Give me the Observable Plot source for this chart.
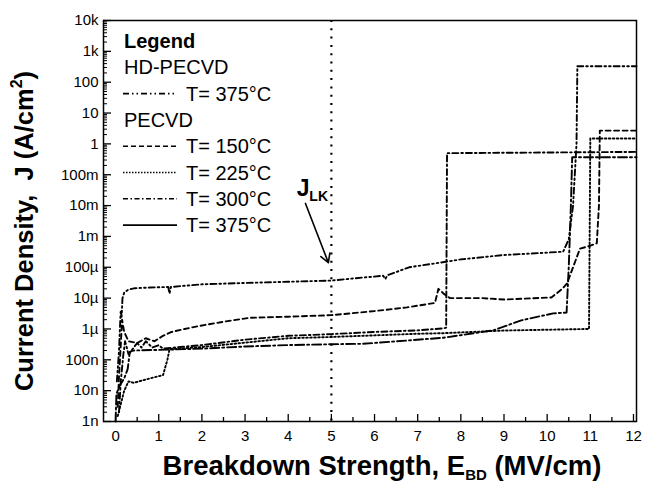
<!DOCTYPE html>
<html><head><meta charset="utf-8">
<script src="https://cdn.jsdelivr.net/npm/d3@7"></script>
<script src="https://cdn.jsdelivr.net/npm/@observablehq/plot@0.6"></script>
<style>body{margin:0;background:#fff}#chart{position:relative;width:646px;height:486px}</style>
</head><body><div id="chart"></div>
<script>
// ---- data (E in MV/cm, J in A/cm^2) ----
const hd375E = [0.03,0.08,0.1,0.12,0.14,0.16,0.2,0.3,0.45,0.8,1.22,1.25,1.28,2,3,4,5,5.7,6.2,6.25,6.3,6.8,7.5,8,9,10.37,10.5,10.6,10.68,10.7,12.07];
const hd375J = [2e-8,2e-7,1e-6,4e-6,2.5e-6,1e-5,1.5e-5,1.9e-5,2.1e-5,2.2e-5,2.3e-5,1.4e-5,2.3e-5,2.8e-5,3.1e-5,3.4e-5,3.7e-5,4.6e-5,5.3e-5,4.2e-5,5.5e-5,1e-4,1.4e-4,1.8e-4,2.5e-4,3.2e-4,8e-4,1e-2,1,330,330];
const p150E = [0.05,0.08,0.12,0.15,0.2,0.3,0.5,0.7,0.9,1.1,1.3,1.6,2,2.6,3.1,4,5,6,6.75,7.4,7.48,7.6,7.75,8.5,9,10.1,10.35,10.46,10.76,11.0,11.15,11.2,11.22,12.07];
const p150J = [3e-9,3e-8,3e-7,2e-6,8e-7,4e-7,3.5e-7,5e-7,4e-7,6e-7,8e-7,1e-6,1.3e-6,1.8e-6,2.3e-6,2.5e-6,2.8e-6,3.8e-6,5e-6,7e-6,2e-5,1.4e-5,1e-5,1e-5,9e-6,1.05e-5,2e-5,3e-5,4e-4,5e-4,6e-4,1e-2,2.7,2.7];
const p225E = [0.05,0.2,0.3,0.42,0.8,1.1,1.2,1.25,2,3,4,5,6,7,7.6,9,10.97,11.0,12.07];
const p225J = [1.5e-9,1e-8,2e-8,1.8e-8,2.5e-8,3.2e-8,1e-7,2.2e-7,2.6e-7,3.6e-7,5e-7,5.5e-7,6.2e-7,7e-7,7.3e-7,8.9e-7,1e-6,1.5,1.5];
const p300E = [0.08,0.12,0.18,0.22,0.3,0.5,0.6,0.7,0.85,1.0,1.1,1.5,2,3,4,5,6,7,7.6,7.66,7.68,12.07];
const p300J = [2e-9,2e-8,1.5e-7,4e-7,1.5e-7,3.5e-7,2.5e-7,4e-7,2.5e-7,3e-7,2.3e-7,2.6e-7,3e-7,4.5e-7,6e-7,6.8e-7,8e-7,9e-7,1.05e-6,1.1e-6,0.5,0.55];
const p375E = [0,0.02,0.1,0.2,0.28,0.33,0.4,1,2,3,4,5,5.7,6.1,7.6,8.75,9.4,10.14,10.45,10.5,10.55,10.58,12.07];
const p375J = [1e-9,8e-9,1.5e-8,2.5e-8,5e-8,1.8e-7,2e-7,2.1e-7,2.3e-7,2.7e-7,3e-7,3.2e-7,3.3e-7,3.6e-7,5.2e-7,9e-7,1.9e-6,3.2e-6,3.4e-6,1e-4,1e-2,0.37,0.37];

const seriesNames = ["HD-PECVD 375","PECVD 150","PECVD 225","PECVD 300","PECVD 375"];
const seriesE = [hd375E,p150E,p225E,p300E,p375E];
const seriesJ = [hd375J,p150J,p225J,p300J,p375J];
const seriesDash = ["6,3,1.6,3,1.6,3","5,3.5","1.6,2.4","6,3,1.6,3","9,3,2,3"];

const xTicks = [0,1,2,3,4,5,6,7,8,9,10,11,12];
const xMinor = [0.5,1.5,2.5,3.5,4.5,5.5,6.5,7.5,8.5,9.5,10.5,11.5];
const yTicks = [1e-9,1e-8,1e-7,1e-6,1e-5,1e-4,1e-3,1e-2,1e-1,1,10,100,1e3,1e4];
const yTickLabels = ["1n","10n","100n","1µ","10µ","100µ","1m","10m","100m","1","10","100","1k","10k"];
const yMinor = [];
for (let d=-9; d<4; d++) for (let k=2;k<10;k++) yMinor.push(k*Math.pow(10,d));

const jlkLine = [5];
const jlkArrow = [{x1:4.4, y1:Math.pow(10,-1.93), x2:4.93, y2:Math.pow(10,-3.85)}];
const jlkText = [{x:4.2, y:Math.pow(10,-1.68), t:"J"}];
const jlkSub = [{x:4.49, y:Math.pow(10,-1.86), t:"LK"}];

const legendRows = [
  {label:"Legend", bold:true, dash:null, indent:false},
  {label:"HD-PECVD", bold:false, dash:null, indent:false},
  {label:"T= 375°C", bold:false, dash:"6,3,1.5,3,1.5,3", indent:true},
  {label:"PECVD", bold:false, dash:null, indent:false},
  {label:"T= 150°C", bold:false, dash:"5,3", indent:true},
  {label:"T= 225°C", bold:false, dash:"1.5,1.5", indent:true},
  {label:"T= 300°C", bold:false, dash:"5,2.5,1.5,2.5", indent:true},
  {label:"T= 375°C", bold:false, dash:"none", indent:true}
];

// ---- layout ----
const W=646, H=486, mL=103, mR=10, mT=20, mB=65;
const xDom=[-0.28,12.07], yDom=[1e-9,1e4];
const pxX=(W-mL-mR)/(xDom[1]-xDom[0]);
const pxDec=(H-mT-mB)/13;
const xTickEnd = (len)=> xDom[0]+len/pxX;
const yTickEnd = (len)=> yDom[0]*Math.pow(10,len/pxDec);
const yLabelOf = (d)=> yTickLabels[Math.round(Math.log10(d))+9];

const font = "'Liberation Sans', Arial, Helvetica, sans-serif";
const lineMarks = seriesNames.map((n,i)=>{
  const rows = seriesE[i].map((e,j)=>({E:e,J:seriesJ[i][j]}));
  return Plot.line(rows,{x:"E",y:"J",stroke:"black",strokeWidth:1.9,strokeDasharray:seriesDash[i]});
});

const chart = Plot.plot({
  width:W, height:H, marginLeft:mL, marginRight:mR, marginTop:mT, marginBottom:mB,
  style:{fontFamily:font, fontSize:"15px", color:"black", background:"white"},
  x:{domain:xDom, label:null},
  y:{type:"log", domain:yDom, label:null},
  marks:[
    Plot.ruleX(jlkLine,{x:d=>d, stroke:"black", strokeWidth:2.2, strokeDasharray:"2,6.3"}),
    ...lineMarks,
    Plot.ruleY(yTicks,{y:d=>d, x1:xDom[0], x2:xTickEnd(8), stroke:"black", strokeWidth:1.3}),
    Plot.ruleY(yMinor,{y:d=>d, x1:xDom[0], x2:xTickEnd(4), stroke:"black", strokeWidth:1}),
    Plot.ruleX(xTicks,{x:d=>d, y1:yDom[0], y2:yTickEnd(7), stroke:"black", strokeWidth:1.3}),
    Plot.ruleX(xMinor,{x:d=>d, y1:yDom[0], y2:yTickEnd(4), stroke:"black", strokeWidth:1.3}),
    Plot.axisY({ticks:yTicks, tickFormat:yLabelOf, tickSize:0, tickPadding:5, label:null, fontSize:15}),
    Plot.axisX({ticks:xTicks, tickFormat:d=>String(d), tickSize:0, tickPadding:9, label:null, fontSize:15}),
    Plot.arrow(jlkArrow,{x1:"x1",y1:"y1",x2:"x2",y2:"y2",stroke:"black",strokeWidth:1.6,headLength:9,bend:0}),
    Plot.text(jlkText,{x:"x",y:"y",text:"t",textAnchor:"start",lineAnchor:"bottom",fontSize:23,fontWeight:"bold"}),
    Plot.text(jlkSub,{x:"x",y:"y",text:"t",textAnchor:"start",lineAnchor:"bottom",fontSize:14,fontWeight:"bold"}),
    Plot.frame({stroke:"black", strokeWidth:1.5})
  ]
});
document.getElementById("chart").appendChild(chart);

const svg = d3.select(chart);
// make sure line dash styles are applied (line marks are in series order)
svg.selectAll('g[aria-label="line"]').each(function(_,i){
  if (seriesDash[i]) d3.select(this).attr("stroke-dasharray",seriesDash[i]).selectAll("path").attr("stroke-dasharray",seriesDash[i]);
});

// ---- axis titles and legend ----
const yl = svg.append("text").attr("transform","translate(33,231) rotate(-90)")
  .attr("text-anchor","middle").attr("font-family",font).attr("font-weight","bold").attr("font-size",25.5).attr("fill","black");
yl.append("tspan").text("Current Density,\u00A0 J (A/cm");
yl.append("tspan").attr("font-size",16).attr("dy",-11).text("2");
yl.append("tspan").attr("dy",11).text(")");

const xl = svg.append("text").attr("x",382).attr("y",475)
  .attr("text-anchor","middle").attr("font-family",font).attr("font-weight","bold").attr("font-size",27.5).attr("fill","black");
xl.append("tspan").text("Breakdown Strength, E");
xl.append("tspan").attr("font-size",15).attr("dy",5).text("BD");
xl.append("tspan").attr("dy",-5).text(" (MV/cm)");

const lg = svg.append("g").attr("font-family",font).attr("fill","black").attr("text-anchor","start");
legendRows.forEach((r,i)=>{
  const yb = 48 + i*26.3;
  lg.append("text").attr("x", r.indent?186:124).attr("y",yb).attr("text-anchor","start")
    .attr("font-size",20).attr("font-weight",r.bold?"bold":"normal").text(r.label);
  if (r.dash) {
    const ln = lg.append("line").attr("x1",123).attr("x2",177).attr("y1",yb-7).attr("y2",yb-7)
      .attr("stroke","black").attr("stroke-width",1.6);
    if (r.dash!=="none") ln.attr("stroke-dasharray",r.dash);
  }
});
</script>
</body></html>
